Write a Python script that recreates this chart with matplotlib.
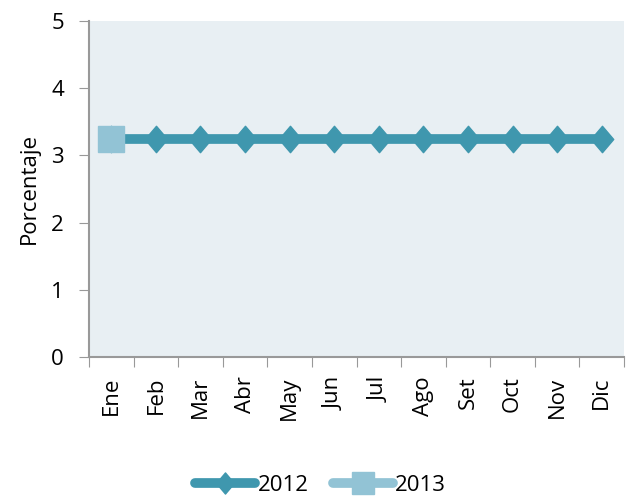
import matplotlib.pyplot as plt
import numpy as np

months = ["Ene", "Feb", "Mar", "Abr", "May", "Jun", "Jul", "Ago", "Set", "Oct", "Nov", "Dic"]
values_2012 = [3.25, 3.25, 3.25, 3.25, 3.25, 3.25, 3.25, 3.25, 3.25, 3.25, 3.25, 3.25]
values_2013 = [3.25]

plt.rcParams["font.family"] = ["Open Sans", "DejaVu Sans"]

# diamond a bit taller than wide, like the original
diamond = [(-0.85, 0), (0, 1), (0.85, 0), (0, -1), (-0.85, 0)]

fig = plt.figure(figsize=(6.29, 5.0), dpi=100)
ax = fig.add_axes([89 / 629, 1 - 357 / 500, (624 - 89) / 629, (357 - 21) / 500])
ax.set_facecolor("#E8EFF3")

x = np.arange(len(months))
ax.plot(x, values_2012, color="#3F97AE", lw=7, marker=diamond, ms=19,
        solid_capstyle="round", label="2012")
ax.plot(x[:len(values_2013)], values_2013, color="#92C3D5", lw=7, marker="s", ms=19,
        solid_capstyle="round", label="2013")

ax.set_xlim(-0.5, len(months) - 0.5)
ax.set_ylim(0, 5)
ax.set_yticks(range(6))
ax.set_xticks(np.arange(-0.5, len(months), 1))
ax.set_xticklabels([])
ax.set_xticks(x, minor=True)
ax.set_xticklabels(months, minor=True, rotation=90, fontsize=16)
ax.tick_params(axis="x", which="minor", length=0, pad=14)
ax.tick_params(axis="x", which="major", length=7, color="#999999", direction="out")
ax.tick_params(axis="y", length=7, color="#999999", labelsize=16, pad=11)

for side in ["top", "right"]:
    ax.spines[side].set_visible(False)
for side in ["left", "bottom"]:
    ax.spines[side].set_color("#999999")
    ax.spines[side].set_linewidth(1.5)

ax.set_ylabel("Porcentaje", fontsize=16, labelpad=8)

fig.legend(loc="lower center", bbox_to_anchor=(0.51, -0.032), ncol=2, frameon=False,
           fontsize=16, handlelength=2.7, handletextpad=0.1, columnspacing=1.1,
           markerscale=0.8)

fig.savefig("out.png", dpi=100)
